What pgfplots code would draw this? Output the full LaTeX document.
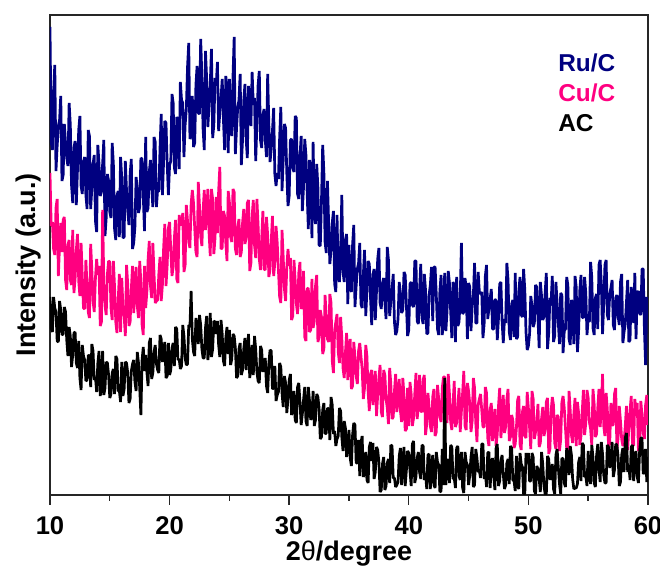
\documentclass[border=0pt]{standalone}
\usepackage{pgfplots}
\pgfplotsset{compat=1.18}
\usepackage{pgfplotstable}
\usepackage{fontspec}
\setmainfont{Liberation Sans}
\definecolor{ruc}{RGB}{0,0,128}
\definecolor{cuc}{RGB}{255,0,128}
\pgfplotstableread{
x ru cu ac
10.0 468 322 198
10.1 353 269 167
10.2 345 273 163
10.3 403 246 198
10.4 430 240 187
10.5 324 287 183
10.6 349 296 154
10.7 369 219 153
10.8 375 250 194
10.9 399 272 185
11.0 314 243 160
11.1 320 275 161
11.2 371 278 188
11.3 352 215 183
11.4 337 205 155
11.5 329 250 139
11.6 392 255 168
11.7 370 215 159
11.8 310 210 128
11.9 292 265 140
12.0 347 202 162
12.1 354 216 163
12.2 290 245 132
12.3 326 261 127
12.4 365 214 154
12.5 379 199 117
12.6 309 252 105
12.7 301 219 150
12.8 333 187 139
12.9 338 186 135
13.0 300 235 114
13.1 286 209 115
13.2 365 183 140
13.3 359 177 139
13.4 286 251 108
13.5 307 225 151
13.6 331 194 144
13.7 340 183 115
13.8 274 217 118
13.9 263 236 103
14.0 350 220 132
14.1 331 229 144
14.2 299 169 99
14.3 303 173 108
14.4 331 285 144
14.5 355 212 100
14.6 259 189 107
14.7 277 180 133
14.8 321 221 132
14.9 314 234 120
15.0 283 233 97
15.1 277 187 101
15.2 352 175 122
15.3 331 234 126
15.4 266 208 101
15.5 255 173 139
15.6 299 162 136
15.7 304 194 104
15.8 258 221 104
15.9 338 163 93
16.0 317 217 133
16.1 257 188 99
16.2 258 179 106
16.3 334 159 133
16.4 304 230 132
16.5 284 211 122
16.6 270 169 92
16.7 321 173 96
16.8 336 206 124
16.9 246 229 131
17.0 252 182 135
17.1 268 206 113
17.2 318 228 104
17.3 306 189 143
17.4 282 177 132
17.5 288 234 107
17.6 337 213 80
17.7 336 170 135
17.8 299 160 148
17.9 264 229 124
18.0 358 187 140
18.1 283 203 123
18.2 287 235 109
18.3 323 254 152
18.4 335 209 157
18.5 308 197 116
18.6 288 252 122
18.7 358 221 143
18.8 353 192 150
18.9 288 194 131
19.0 306 195 125
19.1 303 221 122
19.2 347 238 160
19.3 381 194 156
19.4 300 210 133
19.5 334 247 144
19.6 374 271 153
19.7 372 209 117
19.8 331 230 119
19.9 300 267 152
20.0 330 273 120
20.1 334 245 125
20.2 401 219 147
20.3 392 228 152
20.4 327 257 129
20.5 321 275 168
20.6 378 216 166
20.7 375 212 135
20.8 326 280 136
20.9 413 271 126
21.0 395 270 129
21.1 392 282 170
21.2 338 223 159
21.3 370 230 137
21.4 386 290 130
21.5 428 274 131
21.6 452 253 170
21.7 356 247 168
21.8 360 291 204
21.9 399 305 156
22.0 348 292 143
22.1 352 267 139
22.2 410 243 177
22.3 429 238 166
22.4 382 313 151
22.5 381 289 180
22.6 456 259 170
22.7 418 249 146
22.8 366 284 137
22.9 345 305 137
23.0 444 265 167
23.1 416 281 179
23.2 368 306 135
23.3 391 262 146
23.4 411 239 182
23.5 446 306 138
23.6 357 296 146
23.7 370 241 174
23.8 417 257 173
23.9 410 298 161
24.0 433 262 174
24.1 364 304 150
24.2 383 328 138
24.3 397 246 175
24.4 416 247 161
24.5 376 284 134
24.6 345 279 129
24.7 419 252 157
24.8 408 234 168
24.9 342 304 141
25.0 416 293 165
25.1 365 258 130
25.2 359 253 136
25.3 418 306 161
25.4 458 303 159
25.5 341 246 147
25.6 367 240 117
25.7 388 268 119
25.8 395 276 146
25.9 421 238 152
26.0 330 243 120
26.1 355 272 125
26.2 394 286 146
26.3 411 251 157
26.4 356 257 125
26.5 337 292 144
26.6 409 295 161
26.7 387 224 117
26.8 369 232 128
26.9 423 279 150
27.0 390 295 120
27.1 397 250 159
27.2 334 237 146
27.3 371 296 123
27.4 410 270 114
27.5 424 236 112
27.6 355 225 149
27.7 347 256 145
27.8 380 284 123
27.9 386 226 130
28.0 355 225 137
28.1 338 278 109
28.2 421 260 102
28.3 370 218 132
28.4 333 226 145
28.5 346 254 144
28.6 364 279 106
28.7 387 219 107
28.8 321 232 129
28.9 309 269 94
29.0 322 252 100
29.1 316 225 103
29.2 357 198 132
29.3 388 192 128
29.4 304 265 102
29.5 335 238 88
29.6 371 206 119
29.7 367 194 112
29.8 322 228 82
29.9 289 246 96
30.0 299 229 115
30.1 355 237 121
30.2 356 175 80
30.3 327 179 85
30.4 323 235 104
30.5 379 215 75
30.6 377 191 72
30.7 301 181 108
30.8 296 222 112
30.9 338 233 93
31.0 359 186 70
31.1 284 190 81
31.2 308 224 95
31.3 356 158 108
31.4 340 154 74
31.5 303 206 69
31.6 266 207 108
31.7 335 163 94
31.8 328 165 75
31.9 257 216 80
32.0 353 167 104
32.1 282 174 69
32.2 271 209 75
32.3 331 220 101
32.4 308 153 98
32.5 250 158 87
32.6 249 185 56
32.7 294 178 58
32.8 350 141 85
32.9 323 146 92
33.0 253 200 61
33.1 242 178 62
33.2 314 156 87
33.3 271 153 86
33.4 231 201 55
33.5 245 192 98
33.6 272 134 90
33.7 284 122 61
33.8 211 165 64
33.9 203 173 49
34.0 280 181 56
34.1 219 143 59
34.2 213 132 87
34.3 243 178 84
34.4 300 157 58
34.5 223 127 44
34.6 213 117 74
34.7 255 142 67
34.8 261 162 38
34.9 191 115 51
35.0 250 149 65
35.1 208 156 37
35.2 203 106 29
35.3 250 109 60
35.4 270 153 72
35.5 188 138 70
35.6 209 119 32
35.7 226 111 32
35.8 232 144 55
35.9 252 152 19
36.0 191 139 52
36.1 187 126 59
36.2 220 96 18
36.3 245 107 23
36.4 179 150 43
36.5 204 139 15
36.6 234 103 12
36.7 231 84 48
36.8 197 121 53
36.9 170 125 34
37.0 220 90 52
37.1 226 105 16
37.2 175 124 23
37.3 204 79 48
37.4 236 100 45
37.5 247 117 33
37.6 192 130 3
37.7 186 83 5
37.8 212 78 31
37.9 217 125 38
38.0 193 120 5
38.1 176 96 9
38.2 248 87 32
38.3 235 71 36
38.4 179 127 12
38.5 194 111 50
38.6 206 76 49
38.7 221 78 17
38.8 173 104 17
38.9 160 121 8
39.0 164 83 10
39.1 176 101 13
39.2 213 116 39
39.3 202 84 47
39.4 182 73 10
39.5 185 117 35
39.6 223 100 48
39.7 220 64 9
39.8 190 66 25
39.9 159 107 44
40.0 165 69 42
40.1 211 113 24
40.2 213 101 9
40.3 190 69 51
40.4 188 77 54
40.5 234 101 12
40.6 234 122 18
40.7 174 76 37
40.8 171 88 43
40.9 205 120 23
41.0 231 84 16
41.1 177 83 50
41.2 171 115 49
41.3 221 120 15
41.4 205 60 22
41.5 161 71 6
41.6 162 102 40
41.7 200 88 41
41.8 210 69 6
41.9 228 63 27
42.0 174 98 40
42.1 228 106 10
42.2 228 59 7
42.3 200 63 43
42.4 166 110 33
42.5 160 96 30
42.6 204 78 3
42.7 220 73 4
42.8 160 107 46
42.9 176 118 10
43.0 222 118 117
43.1 164 82 10
43.2 184 72 32
43.3 224 121 36
43.4 212 101 12
43.5 184 73 50
43.6 157 65 48
43.7 213 91 16
43.8 209 114 17
43.9 153 68 7
44.0 218 72 47
44.1 169 88 49
44.2 173 107 19
44.3 197 63 15
44.4 252 84 43
44.5 181 102 7
44.6 183 124 2
44.7 217 69 43
44.8 207 65 33
44.9 156 112 30
45.0 212 104 10
45.1 208 91 20
45.2 164 63 38
45.3 188 74 48
45.4 200 117 8
45.5 232 107 10
45.6 172 72 46
45.7 172 53 37
45.8 223 90 23
45.9 203 96 24
46.0 201 101 17
46.1 203 85 51
46.2 157 68 51
46.3 171 68 16
46.4 219 108 23
46.5 230 102 8
46.6 176 57 42
46.7 186 49 43
46.8 196 85 7
46.9 206 92 29
47.0 166 54 37
47.1 166 74 19
47.2 196 86 5
47.3 194 49 47
47.4 155 61 51
47.5 177 89 9
47.6 211 107 14
47.7 213 57 34
47.8 174 72 40
47.9 152 100 21
48.0 176 62 6
48.1 172 68 10
48.2 232 96 32
48.3 215 106 36
48.4 163 54 11
48.5 155 58 49
48.6 191 80 47
48.7 195 75 15
48.8 158 47 14
48.9 222 51 4
49.0 156 67 39
49.1 158 95 9
49.2 204 99 6
49.3 218 51 42
49.4 180 45 31
49.5 178 83 28
49.6 226 89 1
49.7 205 59 1
49.8 163 57 42
49.9 145 103 34
50.0 149 87 42
50.1 161 67 14
50.2 199 46 14
50.3 189 104 42
50.4 168 96 38
50.5 172 56 4
50.6 210 63 1
50.7 208 73 29
50.8 177 91 26
50.9 147 48 16
51.0 213 52 3
51.1 199 76 43
51.2 175 88 31
51.3 178 59 9
51.4 202 65 1
51.5 222 93 1
51.6 146 97 39
51.7 162 41 36
51.8 197 46 15
51.9 193 84 23
52.0 219 98 31
52.1 153 90 6
52.2 159 52 1
52.3 213 46 40
52.4 193 80 46
52.5 173 78 28
52.6 151 44 11
52.7 202 55 1
52.8 200 93 37
52.9 142 99 36
53.0 164 87 12
53.1 166 67 8
53.2 218 47 47
53.3 210 43 35
53.4 156 104 20
53.5 150 84 49
53.6 195 60 40
53.7 191 52 16
53.8 151 81 6
53.9 219 97 7
54.0 208 49 7
54.1 143 93 11
54.2 164 82 33
54.3 205 50 38
54.4 220 59 14
54.5 178 83 52
54.6 177 105 50
54.7 218 60 18
54.8 202 72 19
54.9 160 105 9
55.0 176 97 44
55.1 173 73 21
55.2 233 66 11
55.3 218 50 50
55.4 167 106 38
55.5 160 91 12
55.6 197 58 8
55.7 201 61 39
55.8 166 87 51
55.9 230 106 26
56.0 235 68 13
56.1 211 86 53
56.2 161 121 41
56.3 191 69 20
56.4 230 59 12
56.5 235 102 12
56.6 180 86 50
56.7 175 49 48
56.8 201 51 27
56.9 207 92 35
57.0 215 70 53
57.1 170 70 18
57.2 165 101 25
57.3 197 107 51
57.4 200 46 50
57.5 179 57 39
57.6 170 89 9
57.7 213 74 13
57.8 221 56 40
57.9 152 49 47
58.0 163 53 23
58.1 171 69 57
58.2 193 89 62
58.3 215 45 23
58.4 153 67 30
58.5 155 85 15
58.6 208 99 48
58.7 194 52 50
58.8 172 49 14
58.9 222 96 36
59.0 156 84 44
59.1 202 92 18
59.2 204 44 12
59.3 182 48 44
59.4 180 94 57
59.5 226 80 57
59.6 226 62 21
59.7 166 56 23
59.8 130 90 46
59.9 198 100 13
60.0 190 70 38
}\xrd
\begin{document}
\begin{tikzpicture}
\path[use as bounding box] (0,0) rectangle (330pt,283pt);
\begin{axis}[
  at={(25pt,35.5pt)}, anchor=south west,
  scale only axis, width=299pt, height=240pt,
  xmin=10, xmax=60, ymin=0, ymax=480,
  xtick={10,20,30,40,50,60},
  extra x ticks={15,25,35,45,55},
  extra x tick labels={},
  extra x tick style={major tick length=3pt, tick align=outside, xtick pos=bottom},
  ytick=\empty,
  xtick pos=bottom, tick align=outside,
  major tick length=5pt,
  axis line style={line width=0.7pt, black!85},
  every tick/.style={line width=0.7pt, black!85},
  /pgf/number format/assume math mode=true,
  xticklabel style={font=\fontsize{12.8}{13}\selectfont\bfseries, anchor=base, yshift=-15pt},
  xlabel={2{\mdseries θ}/degree},
  ylabel={Intensity (a.u.)},
  label style={font=\fontsize{13.5}{14}\selectfont\bfseries},
  xlabel style={at={(axis description cs:0.5,0)}, anchor=base, yshift=-33pt},
  ylabel style={at={(axis description cs:-0.025,0.48)}, anchor=base},
  every axis plot/.append style={line width=1.35pt, line join=bevel},
]
\addplot[ruc, no marks] table[x=x, y=ru] {\xrd};
\addplot[cuc, no marks] table[x=x, y=cu] {\xrd};
\addplot[black, no marks] table[x=x, y=ac] {\xrd};
\node[anchor=base west, inner sep=0pt, text=ruc, font=\fontsize{12.2}{13}\selectfont\bfseries] at (axis cs:52.47,423) {Ru/C};
\node[anchor=base west, inner sep=0pt, text=cuc, font=\fontsize{12.2}{13}\selectfont\bfseries] at (axis cs:52.47,393) {Cu/C};
\node[anchor=base west, inner sep=0pt, text=black, font=\fontsize{12.2}{13}\selectfont\bfseries] at (axis cs:52.47,363) {AC};
\end{axis}
\end{tikzpicture}
\end{document}
